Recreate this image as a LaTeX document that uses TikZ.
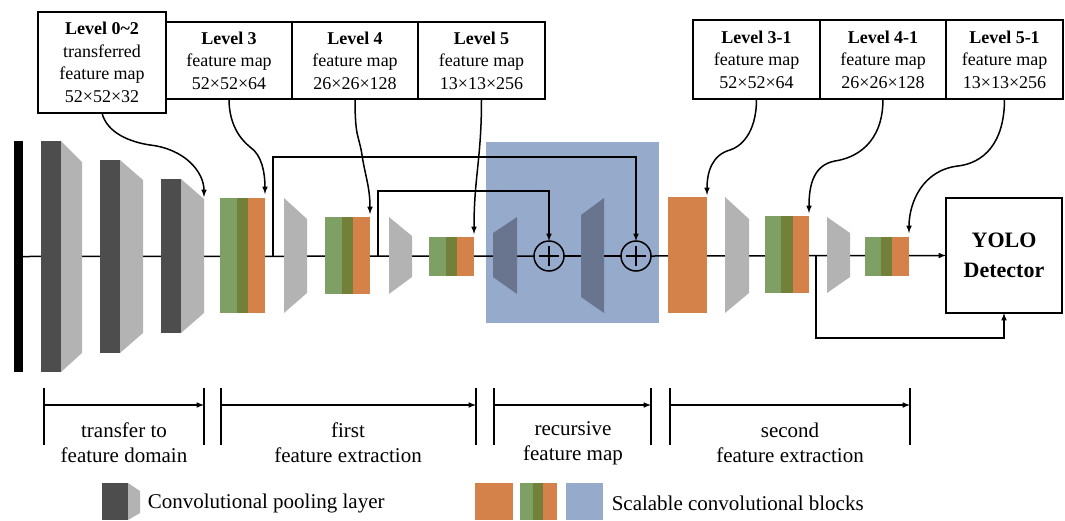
\documentclass[tikz,border=0pt]{standalone}
\usepackage{fontspec}
\setmainfont{Liberation Serif}
\usetikzlibrary{positioning}
\usetikzlibrary{backgrounds}

\definecolor{cdark}{RGB}{77,77,77}
\definecolor{clight}{RGB}{179,179,179}
\definecolor{cgreen}{RGB}{127,160,101}
\definecolor{colive}{RGB}{114,128,58}
\definecolor{corange}{RGB}{213,130,74}
\definecolor{cblue}{RGB}{150,170,204}
\definecolor{cslate}{RGB}{105,117,143}

\begin{document}
\begin{tikzpicture}[x=1pt,y=-1pt,line width=1.5pt,>=latex,
lblbox/.style={draw,rectangle,align=center,inner sep=0pt,outer sep=0pt,font=\fontsize{18}{22.5}\selectfont},
fmap/.style={rectangle,inner sep=0pt,outer sep=0pt},
summer/.style={circle,draw,inner sep=0pt,outer sep=0pt,minimum size=30pt},
stage/.style={align=center,font=\fontsize{21}{25}\selectfont},
legend/.style={anchor=west,inner sep=0pt,font=\fontsize{21}{25}\selectfont}]

\useasboundingbox (0,0) rectangle (1065,520);

% feature map labels
\node[lblbox,minimum width=128,minimum height=101] (L02) at (102,62.5) {\textbf{Level 0\textasciitilde2}\\transferred\\feature map\\52×52×32};
\node[lblbox,minimum width=126,minimum height=77,anchor=north west] (L3) at (166,22) {\textbf{Level 3}\\feature map\\52×52×64};
\node[lblbox,minimum width=126,minimum height=77,right=0pt of L3] (L4) {\textbf{Level 4}\\feature map\\26×26×128};
\node[lblbox,minimum width=127,minimum height=77,right=0pt of L4] (L5) {\textbf{Level 5}\\feature map\\13×13×256};
\node[lblbox,minimum width=127,minimum height=79,anchor=north west] (L31) at (693,20) {\textbf{Level 3-1}\\feature map\\52×52×64};
\node[lblbox,minimum width=126,minimum height=79,right=0pt of L31] (L41) {\textbf{Level 4-1}\\feature map\\26×26×128};
\node[lblbox,minimum width=117,minimum height=79,right=0pt of L41] (L51) {\textbf{Level 5-1}\\feature map\\13×13×256};

% input and conv pooling layers
\node[fmap,fill=black,minimum width=9,minimum height=231] (bar) at (18.5,256.5) {};
\fill[cdark] (41,141) rectangle (61,372);
\fill[clight] (61,141) -- (82,162) -- (82,353) -- (61,372) -- cycle;
\fill[cdark] (100,160) rectangle (120,353);
\fill[clight] (120,160) -- (143,180) -- (143,333) -- (120,353) -- cycle;
\fill[cdark] (161,179) rectangle (181,333);
\fill[clight] (181,179) -- (204,199) -- (204,313) -- (181,333) -- cycle;
\coordinate (c3) at (204,197);

% first feature extraction
\node[fmap,fill=cgreen,minimum width=17,minimum height=115,anchor=west] (b3g) at (220,255.5) {};
\node[fmap,fill=colive,minimum width=11,minimum height=115,right=0pt of b3g] (b3o) {};
\node[fmap,fill=corange,minimum width=17,minimum height=115,right=0pt of b3o] (b3) {};
\coordinate (br1) at (273,256);
\fill[clight] (284,198) -- (307,219) -- (307,293) -- (284,313) -- cycle;
\node[fmap,fill=cgreen,minimum width=17,minimum height=77,anchor=west] (b4g) at (325,255.5) {};
\node[fmap,fill=colive,minimum width=11,minimum height=77,right=0pt of b4g] (b4o) {};
\node[fmap,fill=corange,minimum width=17,minimum height=77,right=0pt of b4o] (b4) {};
\coordinate (br2) at (378,256);
\fill[clight] (389,217) -- (412,236) -- (412,277) -- (389,294) -- cycle;
\node[fmap,fill=cgreen,minimum width=17,minimum height=39,anchor=west] (b5g) at (429,256.5) {};
\node[fmap,fill=colive,minimum width=11,minimum height=39,right=0pt of b5g] (b5o) {};
\node[fmap,fill=corange,minimum width=17,minimum height=39,right=0pt of b5o] (b5) {};

% recursive feature map
\fill[cslate] (493,233) -- (517,217) -- (517,294) -- (493,277) -- cycle;
\node[summer] (sum1) at (549,256) {};
\draw (sum1.center) ++(-10,0) -- ++(20,0) (sum1.center) ++(0,-10) -- ++(0,20);
\fill[cslate] (581,215) -- (604,198) -- (604,313) -- (581,297) -- cycle;
\node[summer] (sum2) at (636,256) {};
\draw (sum2.center) ++(-10,0) -- ++(20,0) (sum2.center) ++(0,-10) -- ++(0,20);

% second feature extraction
\node[fmap,fill=corange,minimum width=39,minimum height=116,anchor=west] (o31) at (668,255) {};
\fill[clight] (725,197) -- (749,219) -- (749,293) -- (725,313) -- cycle;
\node[fmap,fill=cgreen,minimum width=16,minimum height=77,anchor=west] (b41g) at (765,254.5) {};
\node[fmap,fill=colive,minimum width=12,minimum height=77,right=0pt of b41g] (b41o) {};
\node[fmap,fill=corange,minimum width=16,minimum height=77,right=0pt of b41o] (b41) {};
\coordinate (br3) at (816,256);
\fill[clight] (827,217) -- (850,233) -- (850,277) -- (827,293) -- cycle;
\node[fmap,fill=cgreen,minimum width=16,minimum height=39,anchor=west] (b51g) at (865,256.5) {};
\node[fmap,fill=colive,minimum width=11,minimum height=39,right=0pt of b51g] (b51o) {};
\node[fmap,fill=corange,minimum width=17,minimum height=39,right=0pt of b51o] (b51) {};

\node[draw,rectangle,inner sep=0pt,outer sep=0pt,minimum width=116,minimum height=115,align=center,font=\bfseries\fontsize{22}{30}\selectfont] (yolo) at (1004,255.5) {YOLO\\Detector};

\begin{scope}[on background layer]
\begin{scope}[line width=1.5pt]
\node[fmap,fill=cblue,minimum width=173,minimum height=181,anchor=north west] (rec) at (486,142) {};
\draw (bar.east) -- (sum1.west);
\draw (sum1.east) -- (sum2.west);
\draw[->] (sum2.east) -- (yolo.west);
\draw[->] (br1) -- ++(0,-99) -| (sum2.north);
\draw[->] (br2) -- ++(0,-65) -| (sum1.north);
\draw[->] (br3) -- ++(0,82) -| (yolo.south);
\end{scope}
\end{scope}

% label arrows
\draw[->] (L02.south) .. controls +(5,20) and +(-20,-3) .. (150,145) .. controls +(35,4) and +(0,-25) .. (c3);
\draw[->,shorten >=4pt] (L3.south) .. controls +(0,25) and +(-10,-8) .. (250,147) .. controls +(12,8) and +(0,-25) .. (b3.north east);
\draw[->,shorten >=3pt] (L4.south) .. controls +(0,40) and +(-3,-20) .. (362,155) .. controls +(3,20) and +(0,-30) .. (b4.north east);
\draw[->,shorten >=3pt] (L5.south) .. controls +(0,60) and +(0,-60) .. (b5.north east);
\draw[->,shorten >=2pt] (L31.south) .. controls +(0,35) and +(10,-3) .. (730,150) .. controls +(-18,5) and +(0,-25) .. (o31.north east);
\draw[->,shorten >=3pt] (L41.south) .. controls +(0,45) and +(20,-3) .. (835,161) .. controls +(-22,4) and +(0,-30) .. (b41.north east);
\draw[->,shorten >=4pt] (L51.south) .. controls +(0,45) and +(25,-3) .. (958,166) .. controls +(-35,4) and +(0,-35) .. (b51.north east);

% stages
\coordinate (s1) at (44,405);
\coordinate (s2) at (204,405);
\coordinate (s3) at (221,405);
\coordinate (s4) at (476,405);
\coordinate (s5) at (494,405);
\coordinate (s6) at (651,405);
\coordinate (s7) at (670,405);
\coordinate (s8) at (910,405);
\foreach \s in {1,...,8} \draw (s\s) ++(0,-17) -- ++(0,57);
\draw[->] (s1) -- (s2);
\draw[->] (s3) -- (s4);
\draw[->] (s5) -- (s6);
\draw[->] (s7) -- (s8);
\node[stage] (t1) at (124,443) {transfer to\\feature domain};
\node[stage] (t2) at (348,443) {first\\feature extraction};
\node[stage] (t3) at (573,443) {recursive\\feature map};
\node[stage] (t4) at (790,443) {second\\feature extraction};

% legend
\fill[cdark] (102,483) rectangle (128,520);
\fill[clight] (128,483) -- (140,491) -- (140,513) -- (128,520) -- cycle;
\node[legend] (lg1) at (147,503) {Convolutional pooling layer};
\fill[corange] (475,483) rectangle (513,520);
\fill[cgreen] (520,483) rectangle (533,520);
\fill[colive] (533,483) rectangle (543,520);
\fill[corange] (543,483) rectangle (557,520);
\fill[cblue] (566,483) rectangle (603,520);
\node[legend] (lg2) at (611,503) {Scalable convolutional blocks};

\end{tikzpicture}
\end{document}
